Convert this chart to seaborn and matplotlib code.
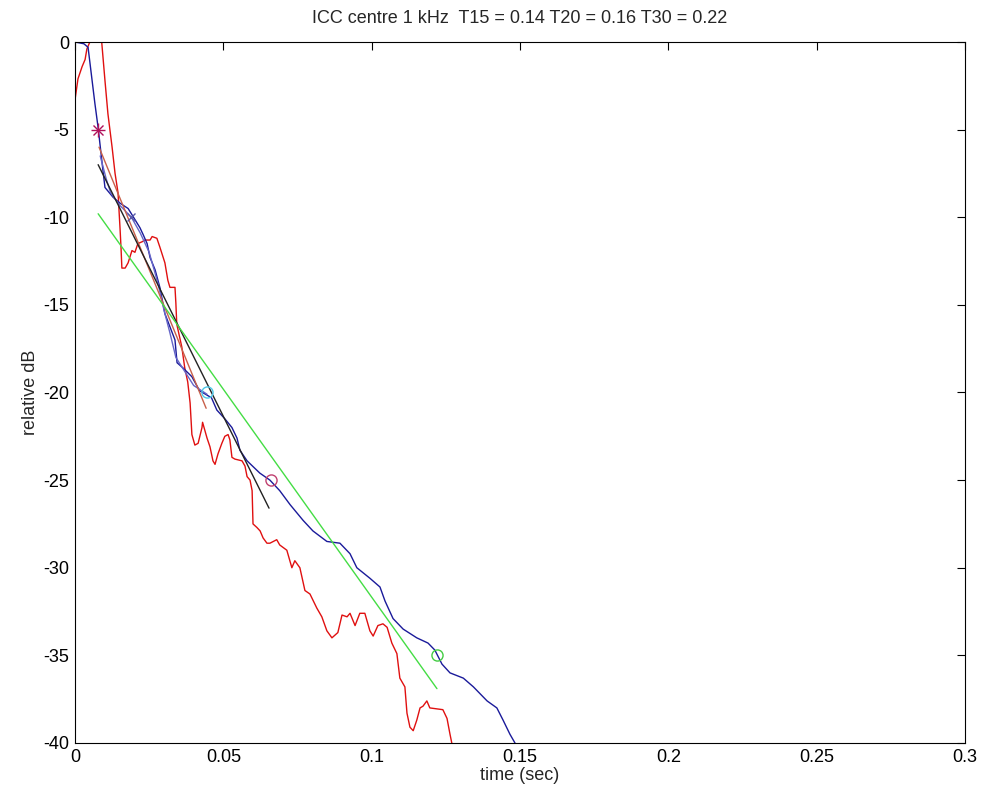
#!/usr/bin/env python3

import matplotlib
matplotlib.use("Agg")
import matplotlib.pyplot as plt
import seaborn as sns


OUT_PNG = "out.png"

TITLE = "ICC centre 1 kHz  T15 = 0.14 T20 = 0.16 T30 = 0.22"

# raw energy decay (red)
red_t = [0.0, 0.001, 0.0024, 0.0034, 0.004, 0.005, 0.0074, 0.009, 0.0094, 0.0101,
         0.0111, 0.0125, 0.0135, 0.0145, 0.0152, 0.0155, 0.0158, 0.0169, 0.0179,
         0.0192, 0.0202, 0.0212, 0.0226, 0.0236, 0.0253, 0.026, 0.0276, 0.0286,
         0.0303, 0.0313, 0.032, 0.0337, 0.034, 0.0343, 0.036, 0.037, 0.038, 0.0388,
         0.0394, 0.0404, 0.0415, 0.0428, 0.043, 0.0445, 0.0455, 0.0465, 0.0472,
         0.0482, 0.0495, 0.0505, 0.0516, 0.0522, 0.0529, 0.0539, 0.0563, 0.0573,
         0.058, 0.059, 0.0597, 0.06, 0.0613, 0.0624, 0.0634, 0.0647, 0.0657, 0.068,
         0.069, 0.0714, 0.0731, 0.0741, 0.0758, 0.0775, 0.0792, 0.0815, 0.0832,
         0.0849, 0.0866, 0.0886, 0.09, 0.0917, 0.0927, 0.0944, 0.096, 0.0977,
         0.0994, 0.1005, 0.1021, 0.1038, 0.1052, 0.1068, 0.1085, 0.1095, 0.1112,
         0.1119, 0.1129, 0.114, 0.1152, 0.1163, 0.1173, 0.1186, 0.1196, 0.124,
         0.1254, 0.1264, 0.127, 0.1275]
red_db = [-3.3, -2.1, -1.4, -1.0, -0.4, 0.0, 0.0, 0.0, -0.8, -2.2,
          -4.1, -6.0, -7.5, -8.6, -10.7, -11.7, -12.9, -12.9, -12.6,
          -11.9, -12.0, -11.5, -11.4, -11.3, -11.3, -11.1, -11.2, -11.7,
          -12.6, -13.6, -14.0, -14.0, -14.9, -16.1, -17.4, -18.6, -19.4, -20.6,
          -22.4, -23.0, -22.9, -22.0, -21.7, -22.6, -23.1, -23.9, -24.1,
          -23.5, -22.9, -22.5, -22.4, -22.7, -23.7, -23.8, -23.9, -24.2,
          -24.8, -25.0, -25.6, -27.5, -27.7, -27.9, -28.3, -28.6, -28.6, -28.4,
          -28.7, -29.0, -30.0, -29.6, -30.0, -31.3, -31.5, -32.3, -32.8,
          -33.6, -34.0, -33.7, -32.7, -32.8, -32.6, -33.3, -32.6, -32.6,
          -33.6, -33.9, -33.3, -33.2, -33.4, -34.3, -34.9, -36.3, -36.8,
          -38.3, -39.1, -39.3, -38.7, -38.0, -37.9, -37.6, -38.0, -38.1,
          -38.6, -39.5, -40.0, -41.0]

# backward integrated decay (navy)
blue_t = [0.0, 0.003, 0.0044, 0.0067, 0.0078, 0.0094, 0.0101, 0.0128, 0.0152,
          0.0179, 0.019, 0.0219, 0.023, 0.0243, 0.0253, 0.027, 0.0286, 0.0303,
          0.0337, 0.0344, 0.0364, 0.0394, 0.042, 0.046, 0.0478, 0.0505, 0.0529,
          0.0546, 0.0556, 0.058, 0.0623, 0.0657, 0.069, 0.0725, 0.0769, 0.0802,
          0.0849, 0.0893, 0.0927, 0.095, 0.0994, 0.1028, 0.1045, 0.1072, 0.1106,
          0.1152, 0.119, 0.1213, 0.1237, 0.1264, 0.1309, 0.1343, 0.1389, 0.1422,
          0.1443, 0.1466, 0.1483, 0.149]
blue_db = [0.0, -0.1, -0.3, -3.5, -4.9, -7.3, -8.3, -8.85, -9.2,
           -9.5, -9.8, -10.6, -11.0, -11.5, -12.3, -13.0, -14.0, -15.5,
           -17.0, -18.3, -18.6, -19.1, -19.9, -20.3, -21.0, -21.5, -22.0,
           -22.6, -23.3, -23.9, -24.6, -25.0, -25.6, -26.4, -27.3, -27.9,
           -28.5, -28.6, -29.2, -30.0, -30.6, -31.1, -31.9, -32.9, -33.5,
           -34.0, -34.3, -34.7, -35.5, -36.0, -36.3, -36.8, -37.6, -38.0,
           -38.7, -39.5, -40.0, -40.5]

# integrated decay over the T15 range (slate blue)
slate_t = [0.0085, 0.0105, 0.012, 0.015, 0.019, 0.022, 0.025, 0.028, 0.030,
           0.032, 0.034, 0.037, 0.040, 0.0445]
slate_db = [-6.5, -7.8, -8.6, -9.3, -10.0, -10.9, -12.0, -13.8, -15.3,
            -16.6, -18.0, -18.8, -19.6, -20.1]

# regression lines
t15_t = [0.0081, 0.0442]
t15_db = [-6.0, -20.9]
t20_t = [0.0078, 0.0654]
t20_db = [-7.0, -26.6]
t30_t = [0.0078, 0.122]
t30_db = [-9.8, -36.9]

# evaluation points
start_pt = (0.0078, -5.0)
x_pt = (0.019, -10.0)
end15_pt = (0.0445, -20.0)
end20_pt = (0.066, -25.0)
end30_pt = (0.122, -35.0)

x_ticks = [0, 0.05, 0.1, 0.15, 0.2, 0.25, 0.3]
x_tick_labels = ["0", "0.05", "0.1", "0.15", "0.2", "0.25", "0.3"]
y_ticks = [0, -5, -10, -15, -20, -25, -30, -35, -40]


def main():
    sns.set_theme(style="white")
    plt.rcParams["font.family"] = ["Liberation Sans", "DejaVu Sans"]
    plt.rcParams["axes.unicode_minus"] = False

    fig = plt.figure(figsize=(9.83, 8.02), dpi=100)
    ax = fig.add_axes([0.0763, 0.0736, 0.9054, 0.874])

    lw = 1.0
    sns.lineplot(x=red_t, y=red_db, color="#e01010", lw=lw, sort=False,
                 estimator=None, ax=ax)
    sns.lineplot(x=blue_t, y=blue_db, color="#1a1a9a", lw=lw, sort=False,
                 estimator=None, ax=ax)
    sns.lineplot(x=slate_t, y=slate_db, color="#6666c8", lw=lw, sort=False,
                 estimator=None, ax=ax)
    sns.lineplot(x=t15_t, y=t15_db, color="#c8604a", lw=lw, ax=ax)
    sns.lineplot(x=t20_t, y=t20_db, color="#222222", lw=lw, ax=ax)
    sns.lineplot(x=t30_t, y=t30_db, color="#44dd44", lw=lw, ax=ax)

    # matlab-style asterisk = plus + cross
    ax.plot(*start_pt, marker="+", ms=10, mew=1.0, color="#b0105a")
    ax.plot(*start_pt, marker="x", ms=7, mew=1.0, color="#b0105a")
    ax.plot(*x_pt, marker="x", ms=6, mew=1.0, color="#5a5aa8")
    ax.plot(*end15_pt, marker="o", ms=8, mew=1.0, color="#50c8e8",
            markerfacecolor="none")
    ax.plot(*end20_pt, marker="o", ms=8, mew=1.0, color="#c04070",
            markerfacecolor="none")
    ax.plot(*end30_pt, marker="o", ms=8, mew=1.0, color="#44cc44",
            markerfacecolor="none")

    ax.set_xlim(0, 0.3)
    ax.set_ylim(-40, 0)
    ax.set_xticks(x_ticks)
    ax.set_xticklabels(x_tick_labels)
    ax.set_yticks(y_ticks)
    ax.tick_params(direction="in", length=6, width=0.8, top=True, right=True,
                   labelsize=13, colors="black", pad=4)
    for s in ax.spines.values():
        s.set_color("black")
        s.set_linewidth(0.8)

    ax.set_title(TITLE, fontsize=13, pad=14)
    ax.set_xlabel("time (sec)", fontsize=13, labelpad=1)
    ax.set_ylabel("relative dB", fontsize=13, labelpad=3)

    fig.savefig(OUT_PNG, dpi=100)
    plt.close(fig)


if __name__ == "__main__":
    main()
